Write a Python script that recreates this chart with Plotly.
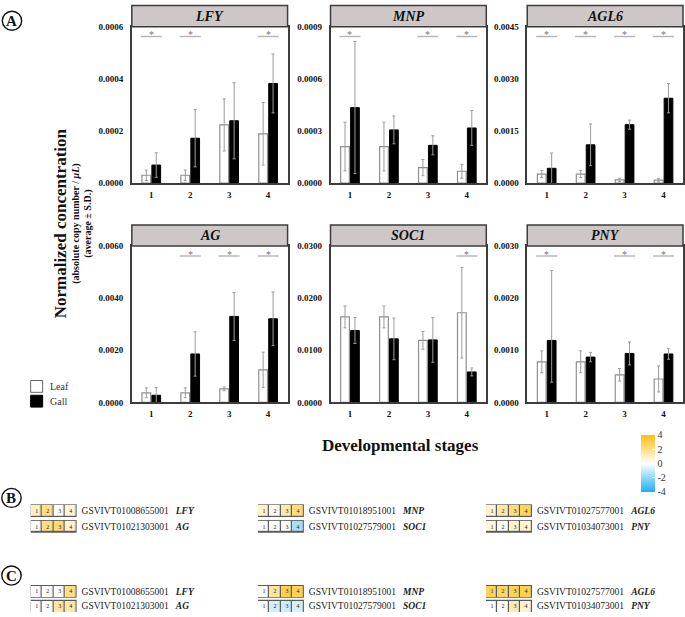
import plotly.graph_objects as go

W, H = 685, 617
FONT = "Liberation Serif"

# ---------------- data ----------------
stages = ["1", "2", "3", "4"]
genes = ["LFY", "MNP", "AGL6", "AG", "SOC1", "PNY"]
y_max = [0.0006, 0.0009, 0.0045, 0.0060, 0.0300, 0.0030]

LFY_leaf = [0.00003, 0.00003, 0.000223, 0.000189]
LFY_leaf_sd = [0.00002, 0.00002, 0.0001, 0.00012]
LFY_gall = [0.000069, 0.000172, 0.000239, 0.000382]
LFY_gall_sd = [0.000047, 0.00011, 0.000146, 0.000113]
LFY_sig = [1, 1, 0, 1]

MNP_leaf = [0.00021, 0.00021, 0.000089, 0.000068]
MNP_leaf_sd = [0.00014, 0.00014, 0.000047, 0.00004]
MNP_gall = [0.000434, 0.000306, 0.000217, 0.000317]
MNP_gall_sd = [0.00038, 0.00008, 0.000055, 0.0001]
MNP_sig = [1, 0, 1, 1]

AGL6_leaf = [0.00026, 0.00026, 0.00009, 0.000085]
AGL6_leaf_sd = [0.0001, 0.0001, 0.00005, 0.00005]
AGL6_gall = [0.000425, 0.0011, 0.00168, 0.00244]
AGL6_gall_sd = [0.00044, 0.0006, 0.00013, 0.00042]
AGL6_sig = [1, 1, 1, 1]

AG_leaf = [0.00037, 0.00037, 0.00052, 0.00125]
AG_leaf_sd = [0.00019, 0.00019, 0.00007, 0.00068]
AG_gall = [0.000275, 0.00186, 0.0033, 0.00321]
AG_gall_sd = [0.0003, 0.00085, 0.00092, 0.00103]
AG_sig = [0, 1, 1, 1]

SOC1_leaf = [0.0164, 0.0164, 0.0119, 0.0172]
SOC1_leaf_sd = [0.0021, 0.0021, 0.0017, 0.0087]
SOC1_gall = [0.0138, 0.0122, 0.0120, 0.00585]
SOC1_gall_sd = [0.0025, 0.0040, 0.0043, 0.00075]
SOC1_sig = [0, 0, 0, 1]

PNY_leaf = [0.00078, 0.00078, 0.00053, 0.00045]
PNY_leaf_sd = [0.00021, 0.00021, 0.00012, 0.00025]
PNY_gall = [0.00119, 0.00087, 0.00094, 0.00093]
PNY_gall_sd = [0.0008, 0.00009, 0.00022, 0.0001]
PNY_gall_sd_up = [0.00134, 0.00009, 0.00022, 0.0001]
PNY_sig = [1, 0, 1, 1]

gene_ids = {
    "LFY": "GSVIVT01008655001", "AG": "GSVIVT01021303001",
    "MNP": "GSVIVT01018951001", "SOC1": "GSVIVT01027579001",
    "AGL6": "GSVIVT01027577001", "PNY": "GSVIVT01034073001",
}

# heatmap (log2 fold) values, panel B and C
B_LFY = [1.0, 2.0, 0.0, 0.7]
B_AG = [0.0, 2.0, 2.3, 0.8]
B_MNP = [0.9, 0.3, 1.4, 2.2]
B_SOC1 = [0.0, 0.0, 0.1, -1.6]
B_AGL6 = [0.8, 1.5, 2.2, 2.6]
B_PNY = [0.6, 0.1, 0.8, 0.7]
C_LFY = [0.0, 0.0, 0.0, 2.0]
C_AG = [0.0, 0.0, 1.6, 1.5]
C_MNP = [0.1, 1.6, 3.0, 2.8]
C_SOC1 = [0.0, -0.8, -0.9, -0.8]
C_AGL6 = [2.8, 2.6, 2.8, 2.9]
C_PNY = [0.0, 0.1, 1.3, 0.8]

series = {
    "LFY": (LFY_leaf, LFY_leaf_sd, LFY_gall, LFY_gall_sd, LFY_gall_sd, LFY_sig),
    "MNP": (MNP_leaf, MNP_leaf_sd, MNP_gall, MNP_gall_sd, MNP_gall_sd, MNP_sig),
    "AGL6": (AGL6_leaf, AGL6_leaf_sd, AGL6_gall, AGL6_gall_sd, AGL6_gall_sd, AGL6_sig),
    "AG": (AG_leaf, AG_leaf_sd, AG_gall, AG_gall_sd, AG_gall_sd, AG_sig),
    "SOC1": (SOC1_leaf, SOC1_leaf_sd, SOC1_gall, SOC1_gall_sd, SOC1_gall_sd, SOC1_sig),
    "PNY": (PNY_leaf, PNY_leaf_sd, PNY_gall, PNY_gall_sd, PNY_gall_sd_up, PNY_sig),
}
heat = {
    "B": [("LFY", B_LFY, "AG", B_AG), ("MNP", B_MNP, "SOC1", B_SOC1), ("AGL6", B_AGL6, "PNY", B_PNY)],
    "C": [("LFY", C_LFY, "AG", C_AG), ("MNP", C_MNP, "SOC1", C_SOC1), ("AGL6", C_AGL6, "PNY", C_PNY)],
}

# ---------------- geometry helpers ----------------
def px(x):
    return x / W


def py(y):
    return 1 - y / H


cols_x = [(132, 288), (331, 487), (528, 684)]
rows_y = [(22, 181), (245, 404)]
PLOT_H = 159.0
HEAD_H = 21.5

FRAME = "#3d3d3d"
fig = go.Figure()
layout = dict(
    width=W, height=H, autosize=False,
    margin=dict(l=0, r=0, t=0, b=0),
    paper_bgcolor="white", plot_bgcolor="white",
    barmode="group", bargap=0.49, bargroupgap=0.12,
    showlegend=False,
    font=dict(family=FONT, color="#111"),
)
shapes, annots = [], []

for i, g in enumerate(genes):
    r, c = divmod(i, 3)
    n = i + 1
    xa = "x" if n == 1 else f"x{n}"
    ya = "y" if n == 1 else f"y{n}"
    leaf, leaf_sd, gall, gall_sd, gall_up, sig = series[g]
    fig.add_trace(go.Bar(
        x=stages, y=leaf, name="Leaf", xaxis=xa, yaxis=ya,
        marker=dict(color="white", line=dict(color="#8f8f8f", width=1.2)),
        error_y=dict(type="data", array=leaf_sd, color="#9c9c9c", thickness=1, width=1.5),
        offsetgroup="leaf",
    ))
    fig.add_trace(go.Bar(
        x=stages, y=gall, name="Gall", xaxis=xa, yaxis=ya,
        marker=dict(color="black", line=dict(color="black", width=1)),
        error_y=dict(type="data", symmetric=False, array=gall_up, arrayminus=gall_sd,
                     color="#9c9c9c", thickness=1, width=1.5),
        offsetgroup="gall",
    ))
    x0, x1 = cols_x[c]
    yt, yb = rows_y[r]
    m = y_max[i]
    layout["xaxis" if n == 1 else f"xaxis{n}"] = dict(
        domain=[px(x0), px(x1)], anchor=ya, type="category", range=[-0.5, 3.5],
        showline=True, mirror=True, linecolor=FRAME, linewidth=1.5,
        ticks="", showgrid=False, zeroline=False, ticklabelstandoff=2,
        tickfont=dict(family=FONT, size=9, weight="bold", color="#111"),
    )
    layout["yaxis" if n == 1 else f"yaxis{n}"] = dict(
        domain=[py(yb), py(yt)], anchor=xa, range=[0, m],
        tickvals=[m * k / 3 for k in range(4)],
        ticktext=[f"{m * k / 3:.4f}" for k in range(4)],
        showline=True, mirror=True, linecolor=FRAME, linewidth=1.5,
        ticks="", showgrid=False, zeroline=False, ticklabelstandoff=5,
        tickfont=dict(family=FONT, size=9, weight="bold", color="#111"),
    )
    xd = f"{xa} domain"
    yd = f"{ya} domain"
    # header strip
    shapes.append(dict(type="rect", xref=xd, yref=yd, x0=0, x1=1, y0=1, y1=1 + HEAD_H / PLOT_H,
                       fillcolor="#cdc7c8", line=dict(color=FRAME, width=1.5), layer="above"))
    annots.append(dict(xref=xd, yref=yd, x=0.5, y=1 + HEAD_H / 2 / PLOT_H, text=f"<b><i>{g}</i></b>",
                       showarrow=False, font=dict(family=FONT, size=14, color="#111"),
                       xanchor="center", yanchor="middle"))
    # significance marks
    for k, s in enumerate(sig):
        if s:
            shapes.append(dict(type="line", xref=xa, yref=yd, x0=k - 0.27, x1=k + 0.27,
                               y0=0.937, y1=0.937, line=dict(color="#b8b8b8", width=1.5)))
            annots.append(dict(xref=xa, yref=yd, x=k, y=0.948, text="*", showarrow=False,
                               font=dict(family=FONT, size=10, color="#777"),
                               xanchor="center", yanchor="middle"))

# ---------------- heatmaps (panels B and C) ----------------
hm_cols_x = [(30.7, 76.7), (258.3, 304.3), (486.7, 532.7)]
panel_geo = {"B": ((506, 538), [-0.5, 1.5], 5), "C": ((588.5, 617), [-0.4, 1.5], 4)}
nb = "\u00a0\u00a0\u00a0"
n = 7
for p in ["B", "C"]:
    (ytop, ybot), yr, ygap = panel_geo[p]
    ppu = (ybot - ytop) / (yr[1] - yr[0])
    e = (ygap / 2 - 1) / ppu
    for c, (g_top, z_top, g_bot, z_bot) in enumerate(heat[p]):
        xa, ya = f"x{n}", f"y{n}"
        fig.add_trace(go.Heatmap(
            x=[0, 1, 2, 3], y=[0, 1], z=[z_bot, z_top], coloraxis="coloraxis",
            xaxis=xa, yaxis=ya, xgap=1.2, ygap=ygap,
            text=[stages, stages], texttemplate="%{text}",
            textfont=dict(family=FONT, size=6, color="#222"), hoverinfo="skip",
        ))
        x0, x1 = hm_cols_x[c]
        layout[f"xaxis{n}"] = dict(domain=[px(x0), px(x1)], anchor=ya, range=[-0.5, 3.5],
                                  visible=False, fixedrange=True)
        layout[f"yaxis{n}"] = dict(
            domain=[py(ybot), py(ytop)], anchor=xa, range=yr, side="right",
            tickvals=[0, 1],
            ticktext=[f"{gene_ids[g_bot]}{nb}<b><i>{g_bot}</i></b>",
                      f"{gene_ids[g_top]}{nb}<b><i>{g_top}</i></b>"],
            showline=False, showgrid=False, zeroline=False, ticks="", ticklabelstandoff=4,
            tickfont=dict(family=FONT, size=9.5, color="#222"), fixedrange=True,
        )
        for row in (0, 1):
            shapes.append(dict(type="rect", xref=xa, yref=ya, x0=-0.54, x1=3.54,
                               y0=row - 0.5 + e, y1=row + 0.5 - e, layer="below",
                               fillcolor="#5a5a5a", line=dict(width=0)))
        n += 1

layout["coloraxis"] = dict(
    colorscale=[[0, "#1eaff0"], [0.5, "#ffffff"], [1, "#fdbf0f"]], cmin=-4, cmax=4,
    colorbar=dict(x=px(642), xanchor="left", y=py(437), yanchor="top",
                  len=57, lenmode="pixels", thickness=14, thicknessmode="pixels",
                  outlinewidth=0, xpad=0, ypad=0,
                  tickvals=[-4, -2, 0, 2, 4], ticktext=["-4", "-2", "0", "2", "4"],
                  ticks="inside", ticklen=3, tickcolor="white",
                  tickfont=dict(family=FONT, size=10, color="#333")),
)

# ---------------- text / decorations ----------------
def ann(x, y, text, size, angle=0, xanchor="center", color="#111"):
    return dict(xref="paper", yref="paper", x=px(x), y=py(y), text=text, textangle=angle,
                showarrow=False, xanchor=xanchor, yanchor="middle",
                font=dict(family=FONT, size=size, color=color))


annots += [
    ann(60, 222, "<b>Normalized concentration</b>", 17, -90),
    ann(76.5, 222, "<b>(absolute copy number / <i>μL</i>)</b>", 10, -90),
    ann(88.5, 222, "<b>(average ± S.D.)</b>", 10, -90),
    ann(401, 448, "<b>Developmental stages</b>", 17),
    ann(48, 388, "Leaf", 10, xanchor="left", color="#333"),
    ann(48, 403, "Gall", 10, xanchor="left", color="#333"),
]
shapes += [
    dict(type="rect", xref="paper", yref="paper", x0=px(30.7), x1=px(42.7), y0=py(393.7), y1=py(381.7),
         fillcolor="white", line=dict(color="#666", width=1)),
    dict(type="rect", xref="paper", yref="paper", x0=px(30.7), x1=px(42.7), y0=py(408.7), y1=py(396.7),
         fillcolor="black", line=dict(color="black", width=1)),
]
for lab, cx, cy in [("A", 12, 16), ("B", 11.5, 501), ("C", 11.5, 580)]:
    shapes.append(dict(type="circle", xref="paper", yref="paper",
                       x0=px(cx - 9.7), x1=px(cx + 9.7), y0=py(cy + 9.7), y1=py(cy - 9.7),
                       line=dict(color="#111", width=1.4)))
    annots.append(ann(cx, cy, f"<b>{lab}</b>", 15))

layout["shapes"] = shapes
layout["annotations"] = annots
fig.update_layout(**layout)
fig.write_html("out.html", config={"displayModeBar": False},
               post_script="document.body.style.margin='0';document.body.style.overflow='hidden';")
